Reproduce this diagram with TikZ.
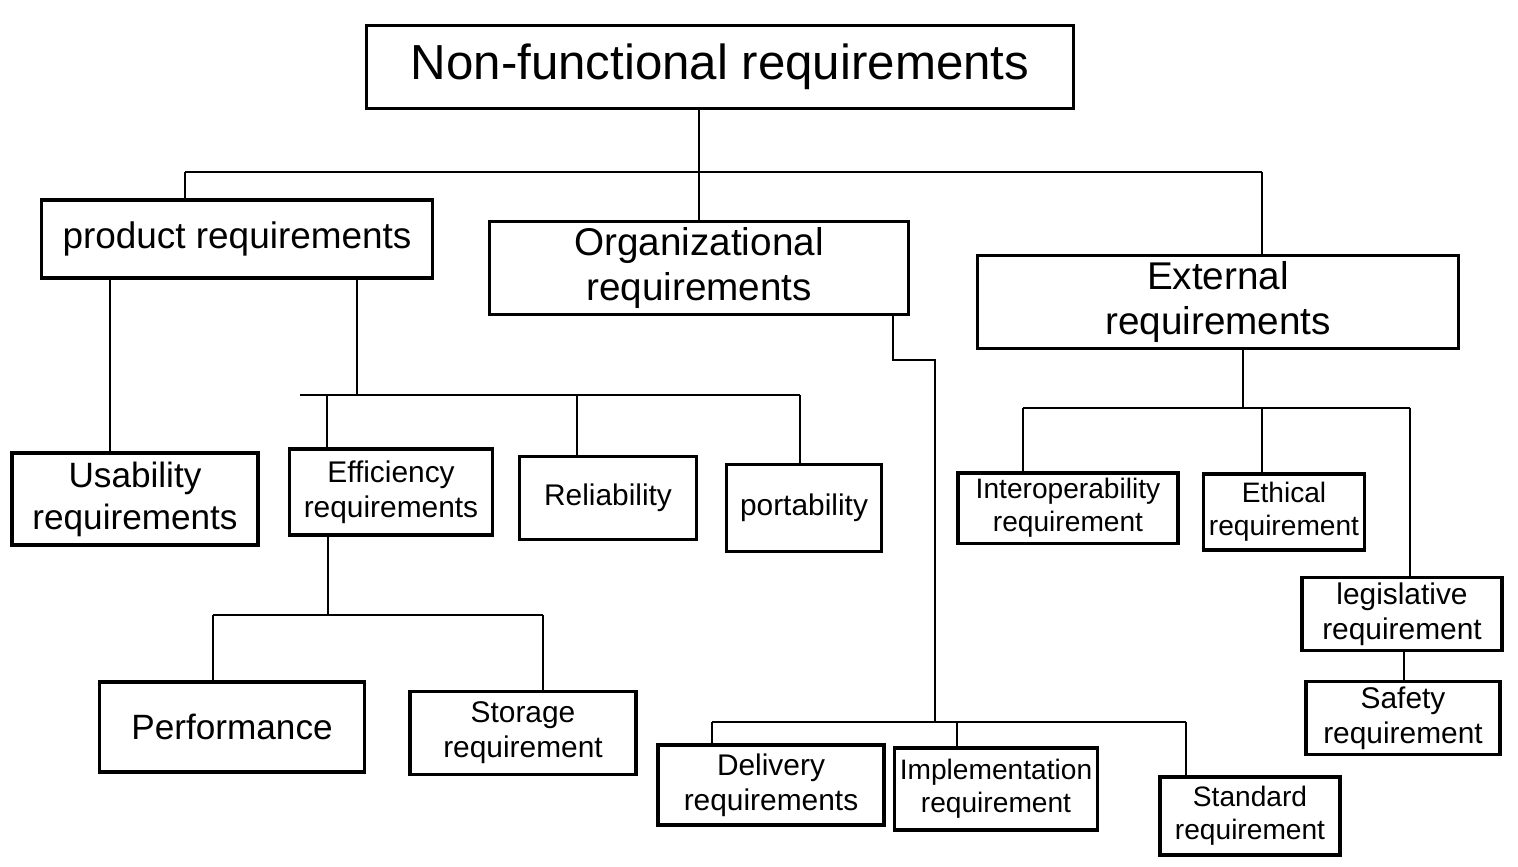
\documentclass[tikz,border=0pt]{standalone}
\usepackage{fontspec}
\setmainfont{Liberation Sans}
\begin{document}
\begin{tikzpicture}[x=0.01cm,y=-0.01cm]
\tikzset{
  box/.style={draw, line width=0.9pt, inner sep=1.5pt, align=center},
  big/.style={font=\fontsize{14}{16}\selectfont},
  mid/.style={font=\fontsize{11}{13}\selectfont},
  small/.style={font=\fontsize{8.5}{10}\selectfont},
  tiny/.style={font=\fontsize{8}{9.5}\selectfont},
  link/.style={line width=0.8pt}
}
\useasboundingbox (0,0) rectangle (1518,866);

% top level
\node[box,big,minimum width=7.06cm,minimum height=0.83cm] (nfr) at (720,67) {Non-functional requirements};

% second level
\node[box,font=\fontsize{10.5}{12.5}\selectfont,minimum width=3.9cm,minimum height=0.78cm] (prod) at (237,239) {product requirements};
\node[box,mid,minimum width=4.18cm,minimum height=0.87cm] (org) at (699,268) {Organizational\\requirements};
\node[box,mid,minimum width=4.8cm,minimum height=0.75cm] (ext) at (1218,302) {External\\requirements};

% product requirements
\node[box,font=\fontsize{10}{12}\selectfont,minimum width=2.46cm,minimum height=0.92cm] (usab) at (135,499) {Usability\\requirements};
\node[box,small,minimum width=2.03cm,minimum height=0.86cm] (eff) at (391,492) {Efficiency\\requirements};
\node[box,small,minimum width=1.77cm,minimum height=0.83cm] (rel) at (608,498) {Reliability};
\node[box,small,minimum width=1.55cm,minimum height=0.87cm] (port) at (804,508) {portability};
\node[box,font=\fontsize{10}{12}\selectfont,minimum width=2.65cm,minimum height=0.9cm] (perf) at (232,727) {Performance};
\node[box,small,minimum width=2.26cm,minimum height=0.83cm] (stor) at (523,733) {Storage\\requirement};

% organizational requirements
\node[box,small,minimum width=2.26cm,minimum height=0.8cm] (deliv) at (771,785) {Delivery\\requirements};
\node[box,tiny,minimum width=2.0cm,minimum height=0.82cm] (impl) at (996,789) {Implementation\\requirement};
\node[box,tiny,minimum width=1.8cm,minimum height=0.78cm] (std) at (1250,816) {Standard\\requirement};

% external requirements
\node[box,tiny,minimum width=2.2cm,minimum height=0.7cm] (inter) at (1068,508) {Interoperability\\requirement};
\node[box,tiny,minimum width=1.6cm,minimum height=0.76cm] (eth) at (1284,512) {Ethical\\requirement};
\node[box,small,minimum width=2.0cm,minimum height=0.58cm] (legis) at (1402,614) {legislative\\requirement};
\node[box,small,minimum width=1.94cm,minimum height=0.67cm] (safe) at (1403,718) {Safety\\requirement};

% branching bars
\coordinate (b1l) at (185,172);
\coordinate (b1r) at (1262,172);
\coordinate (b2l) at (300,395);
\coordinate (b2r) at (800,395);
\coordinate (b3l) at (213,615);
\coordinate (b3r) at (543,615);
\coordinate (b4l) at (712,722);
\coordinate (b4r) at (1186,722);
\coordinate (b5l) at (1023,408);
\coordinate (b5r) at (1410,408);
\coordinate (xa) at (110,0);
\coordinate (xb) at (357,0);
\coordinate (xc) at (327,0);
\coordinate (xd) at (577,0);
\coordinate (xe) at (328,0);
\coordinate (xf) at (893,0);
\coordinate (of1) at (893,360);
\coordinate (of2) at (935,360);
\coordinate (xg) at (957,0);
\coordinate (xh) at (1243,0);
\coordinate (xi) at (1262,0);
\coordinate (xj) at (1404,0);

% non-functional requirements
\draw[link] (b1l) -- (b1r);
\draw[link] (org.north) -- (org.north |- nfr.south);
\draw[link] (b1l) -- (b1l |- prod.north);
\draw[link] (b1r) -- (b1r |- ext.north);

% product requirements
\draw[link] (prod.south -| xa) -- (usab.north -| xa);
\draw[link] (prod.south -| xb) -- (b2l -| xb);
\draw[link] (b2l) -- (b2r);
\draw[link] (b2l -| xc) -- (eff.north -| xc);
\draw[link] (b2l -| xd) -- (rel.north -| xd);
\draw[link] (b2r) -- (b2r |- port.north);

% efficiency requirements
\draw[link] (eff.south -| xe) -- (b3l -| xe);
\draw[link] (b3l) -- (b3r);
\draw[link] (b3l) -- (b3l |- perf.north);
\draw[link] (b3r) -- (b3r |- stor.north);

% organizational requirements
\draw[link] (org.south -| xf) -- (of1) -- (of2) -- (of2 |- b4l);
\draw[link] (b4l) -- (b4r);
\draw[link] (b4l) -- (b4l |- deliv.north);
\draw[link] (b4l -| xg) -- (impl.north -| xg);
\draw[link] (b4r) -- (b4r |- std.north);

% external requirements
\draw[link] (ext.south -| xh) -- (b5l -| xh);
\draw[link] (b5l) -- (b5r);
\draw[link] (b5l) -- (b5l |- inter.north);
\draw[link] (b5l -| xi) -- (eth.north -| xi);
\draw[link] (b5r) -- (b5r |- legis.north);
\draw[link] (legis.south -| xj) -- (safe.north -| xj);
\end{tikzpicture}
\end{document}
